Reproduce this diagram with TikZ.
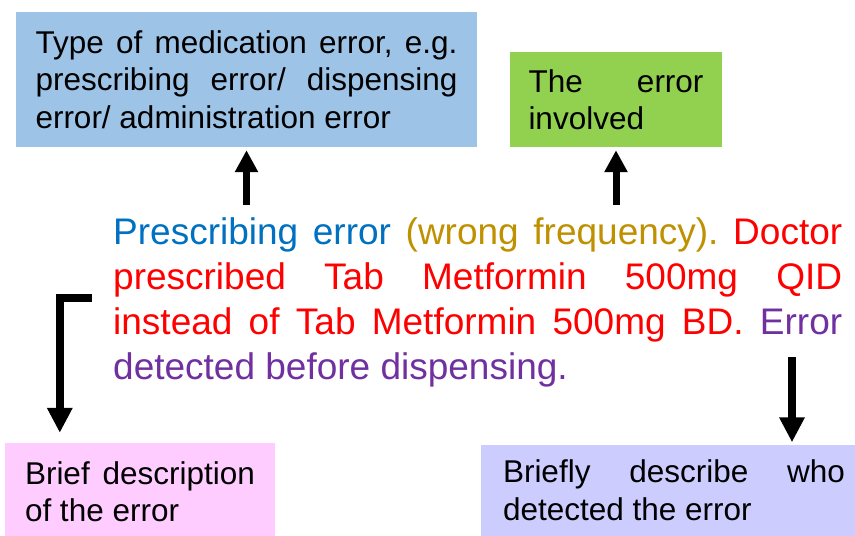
\documentclass[tikz,border=0pt]{standalone}
\usepackage{fontspec}
\setmainfont{Liberation Sans}
\usetikzlibrary{arrows.meta}
\usetikzlibrary{calc}
\definecolor{boxblue}{RGB}{157,195,230}
\definecolor{boxgreen}{RGB}{146,208,80}
\definecolor{boxpink}{RGB}{255,204,255}
\definecolor{boxlilac}{RGB}{204,204,255}
\definecolor{txtblue}{RGB}{0,112,192}
\definecolor{txtgold}{RGB}{191,144,0}
\definecolor{txtred}{RGB}{255,0,0}
\definecolor{txtpurple}{RGB}{112,48,160}
\hyphenpenalty=10000
\exhyphenpenalty=10000
\tikzset{infobox/.style={inner ysep=0pt, align=justify, font=\fontsize{31.5}{37.5}\selectfont\frenchspacing}}
\newcommand{\drawup}{\draw[line width=7pt, -{Triangle[width=22pt, length=22pt]}]}
\newcommand{\drawdown}{\draw[line width=8pt, line join=miter, -{Triangle[width=24pt, length=25pt]}]}

\begin{document}
\begin{tikzpicture}[x=1pt, y=-1pt]
    \clip (0,0) rectangle (855,536);

    % Draw boxes
    \node[infobox, fill=boxblue, text width=422pt, inner xsep=19.5pt, minimum height=135pt] (type) at (246.5,79.5)
        {Type of medication error, e.g.\linebreak prescribing error/ dispensing\linebreak error/ administration error};
    \node[infobox, fill=boxgreen, text width=175pt, inner xsep=18.5pt, minimum height=95pt] (what) at (616,99.5)
        {The error\linebreak involved};
    \node[infobox, fill=boxpink, text width=230pt, inner xsep=20pt, minimum height=97pt] (brief) at (140,491.5)
        {Brief description\linebreak of the error};
    \node[infobox, fill=boxlilac, text width=342pt, inner xsep=22pt, minimum height=91pt] (who) at (674,490)
        {Briefly describe who\linebreak detected the error};

    % Draw main text
    \node[anchor=north west, inner sep=0pt, text width=729pt, align=justify, font=\fontsize{37}{45}\selectfont\frenchspacing] (desc) at (113,217)
        {\textcolor{txtblue}{Prescribing error} \textcolor{txtgold}{(wrong frequency).} \textcolor{txtred}{Doctor}\linebreak
        \textcolor{txtred}{prescribed Tab Metformin 500mg QID}\linebreak
        \textcolor{txtred}{instead of Tab Metformin 500mg BD.} \textcolor{txtpurple}{Error}\linebreak
        \textcolor{txtpurple}{detected before dispensing.}};

    % Draw arrows
    \drawup ($(desc.north -| type.south)+(0,-12)$) -- ($(type.south)+(0,3)$);
    \drawup ($(desc.north -| what.south)+(0,-12)$) -- ($(what.south)+(0,3)$);

    \coordinate (lstart) at (92,298);
    \coordinate (rstart) at (792,357);
    \drawdown (lstart) -| ($(brief.north west)+(55,-10)$);
    \drawdown (rstart) -- ($(rstart |- who.north)+(0,-2)$);
\end{tikzpicture}
\end{document}
